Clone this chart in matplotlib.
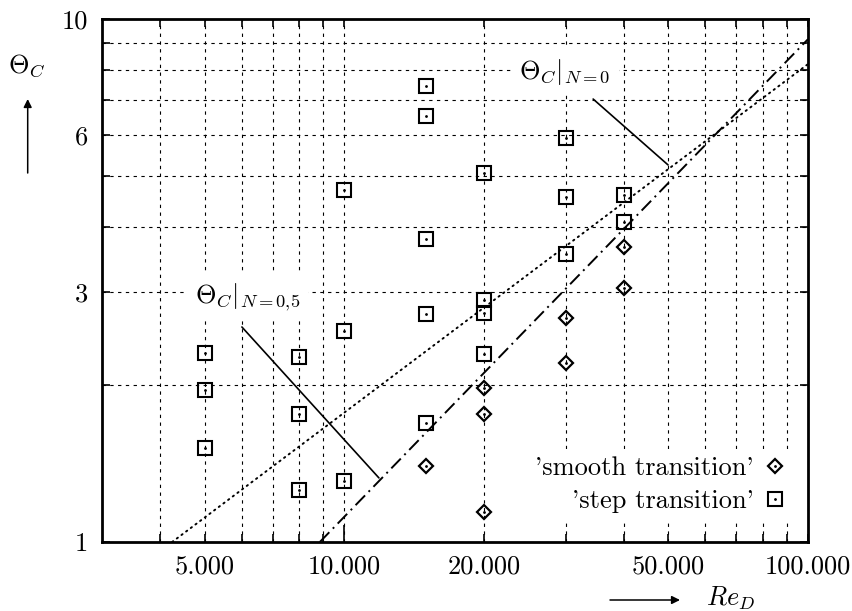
import matplotlib
matplotlib.use('Agg')
import matplotlib.pyplot as plt
from matplotlib.ticker import FixedLocator, FixedFormatter, NullFormatter
from matplotlib.legend_handler import HandlerTuple
from matplotlib.lines import Line2D

plt.rcParams['font.family'] = 'serif'
plt.rcParams['font.serif'] = ['cmr10']
plt.rcParams['mathtext.fontset'] = 'cm'
plt.rcParams['axes.unicode_minus'] = False
plt.rcParams['axes.formatter.use_mathtext'] = True

# ---------------- data ----------------
step_re = [5000, 5000, 5000, 8000, 8000, 8000, 10000, 10000, 10000,
           15000, 15000, 15000, 15000, 15000, 20000, 20000, 20000, 20000,
           30000, 30000, 30000, 40000, 40000]
step_theta = [2.30, 1.95, 1.51, 2.26, 1.76, 1.26, 4.70, 2.53, 1.31,
              7.45, 6.51, 3.79, 2.73, 1.69, 5.07, 2.90, 2.74, 2.29,
              5.91, 4.57, 3.55, 4.61, 4.10]

smooth_re = [15000, 20000, 20000, 20000, 30000, 30000, 40000, 40000]
smooth_theta = [1.40, 1.97, 1.76, 1.14, 2.68, 2.20, 3.67, 3.06]

# correlation lines
n0_re = [4250, 100000]
n0_theta = [1.0, 8.2]
n05_re = [8850, 100000]
n05_theta = [1.0, 9.15]

xmajor = [5000, 10000, 20000, 50000, 100000]
xmajor_labels = ['5.000', '10.000', '20.000', '50.000', '100.000']
xminor = [4000, 6000, 7000, 8000, 9000, 30000, 40000, 60000, 70000, 80000, 90000]
ymajor = [1, 3, 6, 10]
ymajor_labels = ['1', '3', '6', '10']
yminor = [2, 4, 5, 7, 8, 9]

# annotation anchors (text position, leader start, leader end)
ann_n0_text = (23800, 7.92)
ann_n0_from = (34400, 7.03)
ann_n0_to = (49900, 5.26)
ann_n05_text = (4755, 2.94)
ann_n05_from = (6010, 2.577)
ann_n05_to = (11870, 1.326)

FS = 19

fig = plt.figure(figsize=(8.53, 6.11), dpi=100)
ax = fig.add_axes([102 / 853, 69 / 611, 706 / 853, 523 / 611])
ax.set_xscale('log')
ax.set_yscale('log')
ax.set_xlim(3000, 100000)
ax.set_ylim(1, 10)

ax.xaxis.set_major_locator(FixedLocator(xmajor))
ax.xaxis.set_major_formatter(FixedFormatter(xmajor_labels))
ax.xaxis.set_minor_locator(FixedLocator(xminor))
ax.xaxis.set_minor_formatter(NullFormatter())
ax.yaxis.set_major_locator(FixedLocator(ymajor))
ax.yaxis.set_major_formatter(FixedFormatter(ymajor_labels))
ax.yaxis.set_minor_locator(FixedLocator(yminor))
ax.yaxis.set_minor_formatter(NullFormatter())

ax.tick_params(which='both', direction='in', top=True, right=True,
               length=5.5, width=1.2, color='black', labelsize=FS)
ax.tick_params(axis='x', which='major', pad=9)
ax.tick_params(axis='y', which='major', pad=10)
for sp in ax.spines.values():
    sp.set_linewidth(2.0)

ax.grid(True, which='both', color='black', linewidth=0.8,
        linestyle=(0, (3, 4)))
ax.set_axisbelow(True)

# longer tick at 10.000
ax.xaxis.get_major_ticks()[1].tick1line.set_markersize(12)

# lines
ax.plot(n0_re, n0_theta, color='black', lw=1.4, linestyle=(0, (0.7, 2.3)),
        dash_capstyle='round', zorder=3)
ax.plot(n05_re, n05_theta, color='black', lw=1.4,
        linestyle=(0, (7, 2.6, 1.0, 2.6)), zorder=3)

# markers
ax.plot(step_re, step_theta, linestyle='none', marker='s', markersize=10,
        markerfacecolor='none', markeredgecolor='black', markeredgewidth=1.5,
        zorder=4)
ax.plot(step_re, step_theta, linestyle='none', marker='.', markersize=2,
        color='black', zorder=5)
ax.plot(smooth_re, smooth_theta, linestyle='none', marker='D', markersize=7,
        markerfacecolor='none', markeredgecolor='black', markeredgewidth=1.6,
        zorder=4)
ax.plot(smooth_re, smooth_theta, linestyle='none', marker='.', markersize=2,
        color='black', zorder=5)

# annotations
bb = dict(facecolor='white', edgecolor='none', pad=6)
ax.text(*ann_n0_text, r'$\Theta_C\vert_{N=0}$', fontsize=FS,
        ha='left', va='center', bbox=bb, zorder=6)
ax.annotate('', xy=ann_n0_to, xytext=ann_n0_from,
            arrowprops=dict(arrowstyle='-', lw=1.2, color='black',
                            shrinkA=0, shrinkB=0), zorder=6)
ax.text(*ann_n05_text, r'$\Theta_C\vert_{N=0{,}5}$', fontsize=FS,
        ha='left', va='center', bbox=bb, zorder=6)
ax.annotate('', xy=ann_n05_to, xytext=ann_n05_from,
            arrowprops=dict(arrowstyle='-', lw=1.2, color='black',
                            shrinkA=0, shrinkB=0), zorder=6)

# legend
h_smooth = (Line2D([], [], linestyle='none', marker='D', markersize=7,
                   markerfacecolor='none', markeredgecolor='black',
                   markeredgewidth=1.6),
            Line2D([], [], linestyle='none', marker='.', markersize=2, color='black'))
h_step = (Line2D([], [], linestyle='none', marker='s', markersize=10,
                 markerfacecolor='none', markeredgecolor='black',
                 markeredgewidth=1.5),
          Line2D([], [], linestyle='none', marker='.', markersize=2, color='black'))
leg = ax.legend([h_smooth, h_step], ["'smooth transition'", "'step transition'"],
                handler_map={tuple: HandlerTuple(ndivide=1, pad=0)},
                loc='lower right', bbox_to_anchor=(0.979, 0.04),
                borderaxespad=0, markerfirst=False, fontsize=FS,
                frameon=True, fancybox=False, framealpha=1,
                handlelength=0.8, handletextpad=0.4, labelspacing=0.35,
                borderpad=0.3)
leg.get_frame().set_edgecolor('none')
leg.get_frame().set_facecolor('white')
leg.set_zorder(7)

# axis labels with arrows
fig.text(8 / 853, 1 - 66 / 611, r'$\Theta_C$', fontsize=FS, ha='left', va='center')
ax.annotate('', xy=(27.7, 611 - 99), xytext=(27.7, 611 - 173),
            xycoords='figure pixels', textcoords='figure pixels',
            arrowprops=dict(arrowstyle='-|>', lw=1.1, color='black',
                            mutation_scale=12, shrinkA=0, shrinkB=0),
            annotation_clip=False)
ax.annotate('', xy=(680, 11), xytext=(610, 11),
            xycoords='figure pixels', textcoords='figure pixels',
            arrowprops=dict(arrowstyle='-|>', lw=1.1, color='black',
                            mutation_scale=12, shrinkA=0, shrinkB=0),
            annotation_clip=False)
fig.text(706 / 853, 13 / 611, r'$Re_D$', fontsize=FS, ha='left', va='center')

fig.savefig('out.png', dpi=100)
